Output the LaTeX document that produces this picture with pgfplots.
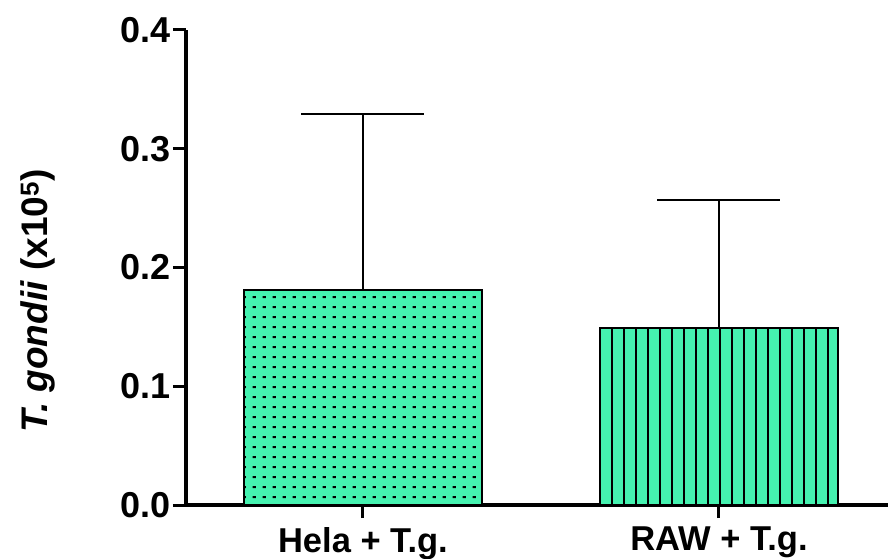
\documentclass[border=0pt]{standalone}
\usepackage{pgfplots}
\pgfplotsset{compat=1.18}
\usepackage{fontspec}
\setmainfont{Liberation Sans}
\usetikzlibrary{patterns}
\definecolor{barfill}{RGB}{69,242,176}
\pgfdeclarepatternformonly{myvlines}{\pgfpoint{-1.5pt}{-1pt}}{\pgfpoint{1.5pt}{13pt}}{\pgfpoint{12pt}{12pt}}{%
  \pgfsetlinewidth{2.2pt}\pgfpathmoveto{\pgfpoint{0pt}{-1pt}}\pgfpathlineto{\pgfpoint{0pt}{13pt}}\pgfusepath{stroke}}
\pgfdeclarepatternformonly{mydash}{\pgfpoint{0pt}{0pt}}{\pgfpoint{10pt}{9.5pt}}{\pgfpoint{10pt}{9.5pt}}{%
  \pgfpathrectangle{\pgfpoint{3pt}{4pt}}{\pgfpoint{3.5pt}{2.2pt}}\pgfusepath{fill}}
\begin{document}
\begin{tikzpicture}
\useasboundingbox (-186pt,-54pt) rectangle (702pt,505pt);
\begin{axis}[
  at={(0,0)}, anchor=south west,
  scale only axis, width=702pt, height=475pt,
  axis x line*=bottom, axis y line*=left,
  axis line style={line width=3.5pt},
  xmin=-0.497, xmax=1.475, ymin=0, ymax=0.4,
  xtick={0,1}, xticklabels={Hela + T.g., RAW + T.g.},
  ytick={0,0.1,0.2,0.3,0.4},
  yticklabel style={/pgf/number format/fixed, /pgf/number format/fixed zerofill, /pgf/number format/precision=1, /pgf/number format/assume math mode=true},
  tick align=outside, major tick length=13pt,
  tick style={line width=3pt, black},
  yticklabel style={font=\fontsize{36}{42}\selectfont\bfseries, inner sep=2pt},
  xticklabel style={font=\fontsize{34.5}{40}\selectfont\bfseries, inner sep=0pt, yshift=-9pt},
  ylabel={\fontsize{37}{44}\selectfont\bfseries\textit{T. gondii} (x10\textsuperscript{5})},
  ylabel style={at={(axis description cs:-0.2108,0.4295)}, anchor=center},
  clip=false,
]
\addplot[ybar, bar width=0.6685, fill=barfill, draw=black, line width=2.2pt, postaction={pattern=mydash}] coordinates {(0,0.181)};
\addplot[ybar, bar width=0.6685, fill=barfill, draw=black, line width=2.2pt, postaction={pattern=myvlines}] coordinates {(1,0.149)};
\addplot[draw=none, mark=none, forget plot,
  error bars/.cd, y dir=plus, y explicit,
  error bar style={draw=black, line width=2pt},
  error mark options={draw=black, line width=2pt, rotate=90, mark size=61.5pt}]
  coordinates {(0,0.181) +- (0,0.148) (1,0.149) +- (0,0.108)};
\end{axis}
\end{tikzpicture}
\end{document}
